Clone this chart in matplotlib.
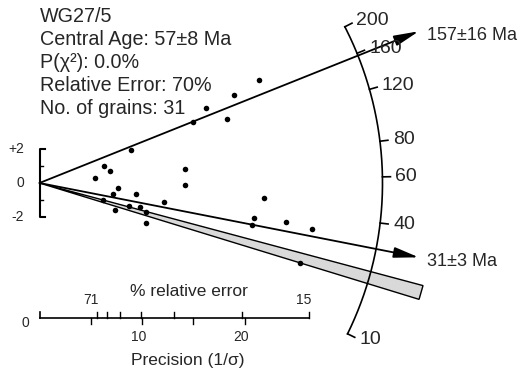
import numpy as np
import matplotlib.pyplot as plt
from matplotlib.patches import Polygon

plt.rcParams['font.family'] = ['Liberation Sans', 'DejaVu Sans']

# single grain results: precision (1/sigma) and standardised estimate
precision = [21.4, 19.0, 16.2, 18.3, 15.0, 8.9, 6.3, 6.9, 5.4, 14.2,
             14.2, 7.7, 7.2, 9.4, 6.2, 7.4, 8.7, 9.8, 10.4, 10.4,
             12.1, 21.9, 20.9, 20.7, 24.0, 26.6, 25.4]
std_est = [6.04, 5.18, 4.44, 3.75, 3.57, 1.97, 1.02, 0.68, 0.28, 0.82,
           -0.12, -0.31, -0.66, -0.66, -1.00, -1.59, -1.34, -1.44, -1.72, -2.35,
           -1.12, -0.91, -2.08, -2.47, -2.31, -2.71, -4.68]

info_lines = ['WG27/5', 'Central Age: 57±8 Ma', 'P(χ²): 0.0%',
              'Relative Error: 70%', 'No. of grains: 31']
central_age = 57
peak_ages = [157, 31]
peak_labels = ['157±16 Ma', '31±3 Ma']
band_ages = [24.2, 21.0]
age_ticks = [10, 40, 60, 80, 120, 160, 200]
prec_ticks = [5, 10, 15, 20]
prec_ticklabels = ['', '10', '', '20']
relerr_ticks = [71, 60, 50, 40, 30, 20, 15]
relerr_ticklabels = ['71', '', '', '', '', '', '15']

W, H = 528, 378
PX, PY = 10.25, 17.0   # pixels per unit precision / standardised estimate
X0, Y0 = 39.5, 183.0   # where the origin sits on the canvas
SCALE = 0.3045         # age transform z = SCALE * t**0.25
RADIUS = 343           # radius of the age arc, pixels
ERR_K = 395            # precision = ERR_K / relative error (%)
TXT = '#262626'


def z(t):
    return SCALE * np.asarray(t, float) ** 0.25


def slope(t):
    return z(t) - z(central_age)


def ang(t):
    # angle of the ray for age t as it appears on the canvas
    return np.arctan(slope(t) * PY / PX)


def polar(r, a):
    return r * np.cos(a) / PX, r * np.sin(a) / PY


def px(x, y):
    # canvas pixel position -> data coordinates
    return (x - X0) / PX, (Y0 - y) / PY


fig = plt.figure(figsize=(W / 100, H / 100), dpi=100)
ax = fig.add_axes([0, 0, 1, 1])
ax.set_xlim(-X0 / PX, (W - X0) / PX)
ax.set_ylim(-(H - Y0) / PY, Y0 / PY)
ax.axis('off')

# info block
for i, line in enumerate(info_lines):
    ax.text(*px(40, 17 + 22.8 * i), line, fontsize=14.2, color=TXT,
            ha='left', va='center')

# shaded band
a1, a2 = ang(band_ages[0]), ang(band_ages[1])
band = Polygon([(0, 0), polar(397, a1), polar(397, a2)], closed=True,
               facecolor='#d9d9d9', edgecolor='black', lw=1.0, zorder=2)
ax.add_patch(band)

# peak age rays
x_tip = 37.0
for age, lab in zip(peak_ages, peak_labels):
    tip = (x_tip, slope(age) * x_tip)
    ax.annotate('', xy=tip, xytext=(0, 0),
                arrowprops=dict(arrowstyle='-|>,head_length=1.5,head_width=0.32',
                                mutation_scale=10, lw=1.3, color='black',
                                shrinkA=0, shrinkB=0), zorder=3)
    ax.text(tip[0] + 0.8, tip[1] - 0.25, lab, fontsize=13, color=TXT,
            ha='left', va='center')

# age arc
arc = np.linspace(ang(min(age_ticks)), ang(max(age_ticks)), 300)
ax.plot(*polar(RADIUS, arc), color='black', lw=1.2)
for t in age_ticks:
    a = ang(t)
    p1, p2 = polar(RADIUS, a), polar(RADIUS + 8, a)
    ax.plot([p1[0], p2[0]], [p1[1], p2[1]], color='black', lw=1.2)
    ax.text(*polar(RADIUS + 13, a), str(t), fontsize=14, color=TXT,
            ha='left', va='center')

# standardised estimate bracket
ax.plot([0.5, 0, 0, 0.5], [2, 2, -2, -2], color='black', lw=1.5)
for yv in (1, -1):
    ax.plot([0, 0.3], [yv, yv], color='black', lw=1.0)
for yv, lab in zip([2, 0, -2], ['+2', '0', '-2']):
    ax.text(-1.5, yv, lab, fontsize=10, color=TXT, ha='right', va='center')

# precision / relative error axis
y_ax = px(0, 318)[1]
up, down = 6 / PY, 6 / PY
x_end = ERR_K / min(relerr_ticks)
ax.plot([0, x_end], [y_ax, y_ax], color='black', lw=1.2)
ax.plot([0, 0], [y_ax, y_ax + up], color='black', lw=1.2)
for t, lab in zip(prec_ticks, prec_ticklabels):
    ax.plot([t, t], [y_ax, y_ax - down], color='black', lw=1.0)
    if lab:
        ax.text(t - 0.3, px(0, 337)[1], lab, fontsize=10, color=TXT,
                ha='center', va='center')
for r, lab in zip(relerr_ticks, relerr_ticklabels):
    xr = ERR_K / r
    ax.plot([xr, xr], [y_ax, y_ax + up], color='black', lw=1.0)
    if lab:
        ax.text(xr - 0.55, px(0, 300)[1], lab, fontsize=10, color=TXT,
                ha='center', va='center')
ax.text(*px(25, 323), '0', fontsize=10, color=TXT, ha='center', va='center')
ax.text(*px(189, 291), '% relative error', fontsize=12.5, color=TXT,
        ha='center', va='center')
ax.text(*px(188, 360), 'Precision (1/σ)', fontsize=12.5, color=TXT,
        ha='center', va='center')

# grains
ax.scatter(precision, std_est, s=16, c='black', zorder=5, linewidths=0)

fig.savefig('out.png', dpi=100)
